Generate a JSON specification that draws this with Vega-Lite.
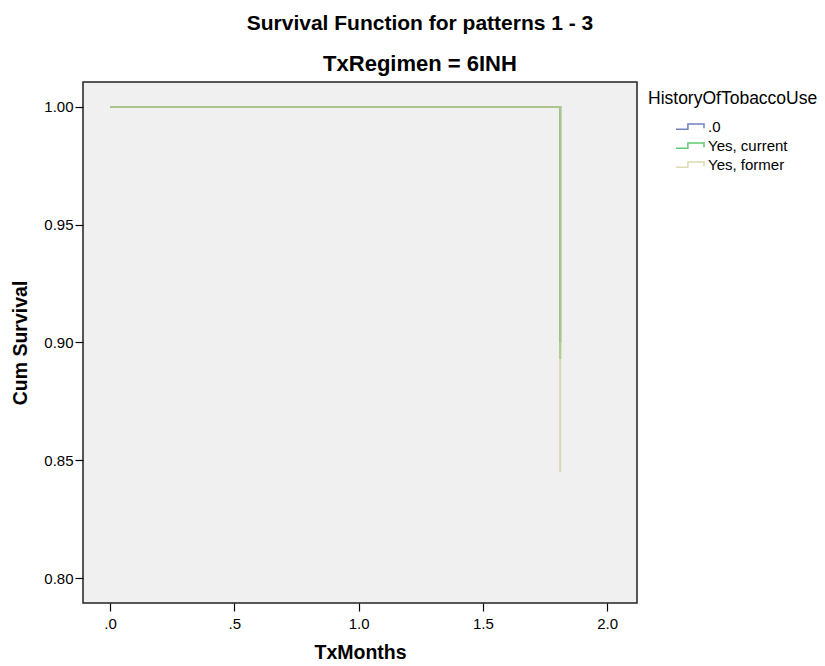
{
  "$schema": "https://vega.github.io/schema/vega-lite/v6.json",
  "width": 554,
  "height": 521,
  "autosize": {"type": "none"},
  "padding": {"left": 83, "top": 82, "right": 188, "bottom": 63},
  "background": "white",
  "title": {
    "text": "Survival Function for patterns 1 - 3",
    "subtitle": "TxRegimen = 6INH",
    "anchor": "middle",
    "frame": "group",
    "dx": 60,
    "offset": 7,
    "font": "Liberation Sans",
    "fontSize": 21,
    "fontWeight": "bold",
    "color": "black",
    "subtitleFont": "Liberation Sans",
    "subtitleFontSize": 22,
    "subtitleFontWeight": "bold",
    "subtitleColor": "black",
    "subtitlePadding": 20
  },
  "config": {
    "view": {"fill": "#F0F0F0", "stroke": "#222222", "strokeWidth": 1.5},
    "axis": {
      "grid": false,
      "domain": false,
      "tickColor": "black",
      "tickSize": 8,
      "tickWidth": 1.2,
      "labelFont": "Liberation Sans",
      "labelFontSize": 15,
      "labelColor": "black",
      "titleFont": "Liberation Sans",
      "titleFontSize": 19.5,
      "titleFontWeight": "bold",
      "titleColor": "black"
    }
  },
  "data": {
    "values": [
      {"group": ".0", "months": 0, "survival": 1.0},
      {"group": ".0", "months": 1.811, "survival": 0.9},
      {"group": "Yes, current", "months": 0, "survival": 1.0},
      {"group": "Yes, current", "months": 1.811, "survival": 0.893},
      {"group": "Yes, former", "months": 0, "survival": 1.0},
      {"group": "Yes, former", "months": 1.811, "survival": 0.845}
    ]
  },
  "mark": {"type": "line", "interpolate": "step-after", "strokeWidth": 2, "opacity": 0.75},
  "encoding": {
    "x": {
      "field": "months",
      "type": "quantitative",
      "title": "TxMonths",
      "scale": {"domain": [-0.109, 2.12], "nice": false, "zero": false},
      "axis": {
        "values": [0, 0.5, 1, 1.5, 2],
        "labelExpr": "datum.value == 0 ? '.0' : datum.value == 0.5 ? '.5' : format(datum.value, '.1f')",
        "labelPadding": 5,
        "titlePadding": 12
      }
    },
    "y": {
      "field": "survival",
      "type": "quantitative",
      "title": "Cum Survival",
      "scale": {"domain": [0.7894, 1.0106], "nice": false, "zero": false},
      "axis": {
        "values": [0.8, 0.85, 0.9, 0.95, 1.0],
        "format": ".2f",
        "labelPadding": 2,
        "titlePadding": 13
      }
    },
    "color": {
      "field": "group",
      "type": "nominal",
      "title": "HistoryOfTobaccoUse",
      "scale": {"domain": [".0", "Yes, current", "Yes, former"], "range": ["#3E58AC", "#2EB848", "#D3CE97"]},
      "legend": {
        "orient": "none",
        "legendX": 565,
        "legendY": 8,
        "titleFont": "Liberation Sans",
        "titleFontSize": 17.5,
        "titleFontWeight": "normal",
        "titleColor": "black",
        "titlePadding": 11,
        "labelFont": "Liberation Sans",
        "labelFontSize": 15,
        "labelColor": "black",
        "labelOffset": 10,
        "rowPadding": 3,
        "symbolType": "M-2,0.4H-0.3V-0.34H2V0.24",
        "symbolSize": 196,
        "symbolStrokeWidth": 1.5,
        "symbolFillColor": "transparent",
        "symbolOffset": 34
      }
    },
    "order": {"field": "group", "type": "nominal"}
  }
}
